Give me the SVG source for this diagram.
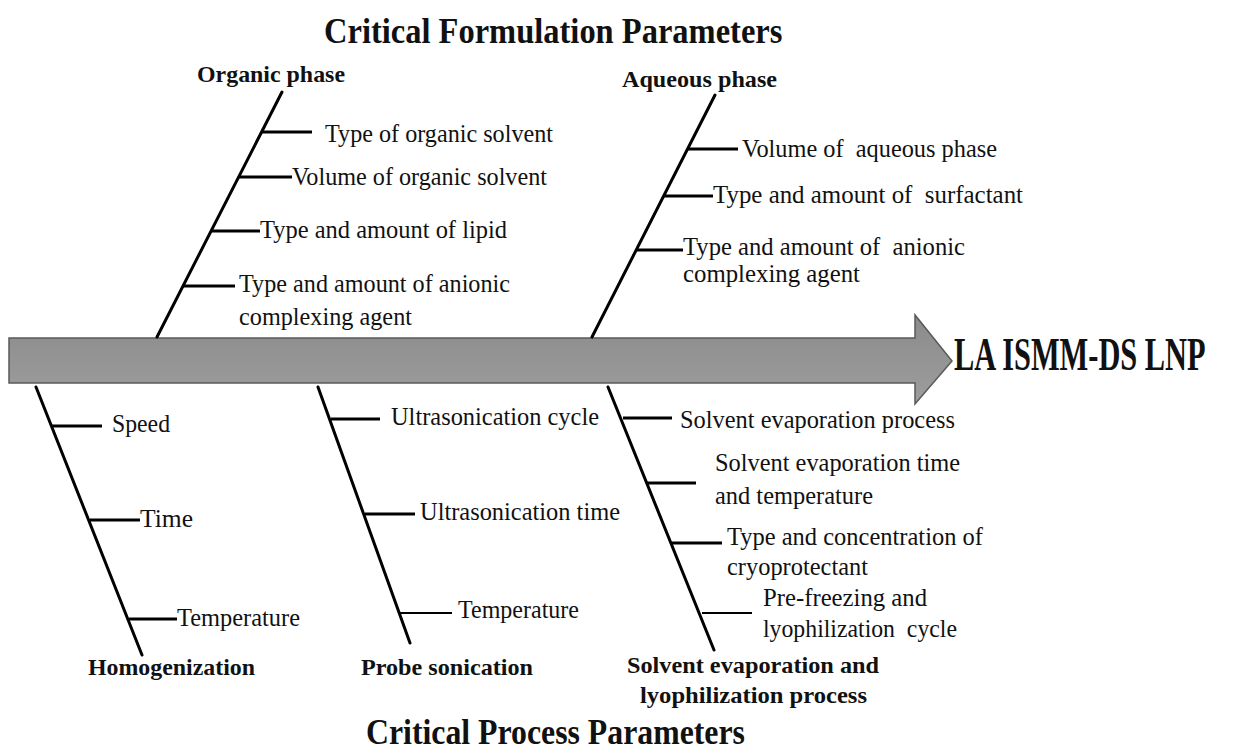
<svg xmlns="http://www.w3.org/2000/svg" width="1233" height="753" viewBox="0 0 1233 753">
<defs>
<linearGradient id="gr" x1="0" y1="0" x2="0" y2="1">
<stop offset="0" stop-color="#8b8b8b"/>
<stop offset="1" stop-color="#9d9d9d"/>
</linearGradient>
<style>
.t{font-family:"Liberation Serif","Times New Roman",serif;font-size:25.5px;fill:#111}
.b{font-weight:bold;font-size:24px}
.ttl{font-family:"Liberation Serif","Times New Roman",serif;font-weight:bold;fill:#111}
.sp{stroke:#000;stroke-width:3;fill:none;stroke-linecap:round}
.tk{stroke:#000;stroke-width:3}
.tn{stroke:#000;stroke-width:1.8}
</style>
</defs>
<rect width="1233" height="753" fill="#fff"/>

<g id="titles">
<text class="ttl" transform="translate(324,43) scale(1,1.12)" x="0" y="0" style="font-size:32.5px">Critical Formulation Parameters</text>
<text class="ttl" transform="translate(366,744) scale(1,1.12)" x="0" y="0" style="font-size:31.8px">Critical Process Parameters</text>
</g>

<g id="main-arrow">
<polygon points="9,338 915,338 915,315 952,361 915,404 915,383 9,383" fill="url(#gr)" stroke="#5a5a5a" stroke-width="1.5"/>
</g>

<g id="outcome">
<text class="ttl" transform="translate(954,370) scale(1,1.5)" x="0" y="0" style="font-size:30.4px">LA ISMM-DS LNP</text>
</g>

<g id="connectors">
<!-- Organic phase -->
<line class="sp" x1="157" y1="337" x2="282" y2="92"/>
<line class="tk" x1="262" y1="132" x2="312" y2="132"/>
<line class="tk" x1="239" y1="177" x2="292" y2="177"/>
<line class="tk" x1="212" y1="231" x2="260" y2="231"/>
<line class="tk" x1="183" y1="286" x2="235" y2="286"/>
<!-- Aqueous phase -->
<line class="sp" x1="592" y1="337" x2="715" y2="95"/>
<line class="tk" x1="687" y1="149" x2="738" y2="149"/>
<line class="tk" x1="663" y1="196" x2="713" y2="196"/>
<line class="tk" x1="637" y1="250" x2="683" y2="250"/>
<!-- Homogenization -->
<line class="sp" x1="36" y1="387" x2="142" y2="655"/>
<line class="tk" x1="52" y1="426" x2="102" y2="426"/>
<line class="tk" x1="90" y1="520" x2="140" y2="520"/>
<line class="tk" x1="129" y1="619" x2="177" y2="619"/>
<!-- Probe sonication -->
<line class="sp" x1="318" y1="387" x2="410" y2="643"/>
<line class="tk" x1="331" y1="419" x2="380" y2="419"/>
<line class="tk" x1="365" y1="514" x2="415" y2="514"/>
<line class="tn" x1="400" y1="613" x2="452" y2="613"/>
<!-- Solvent evaporation -->
<line class="sp" x1="608" y1="387" x2="714" y2="650"/>
<line class="tk" x1="623" y1="418" x2="672" y2="418"/>
<line class="tk" x1="647" y1="483" x2="696" y2="483"/>
<line class="tk" x1="672" y1="543" x2="722" y2="543"/>
<line class="tn" x1="702" y1="613" x2="752" y2="613"/>
</g>

<g id="organic-phase">
<text class="t b" x="197" y="82" textLength="148" lengthAdjust="spacingAndGlyphs">Organic phase</text>
<text class="t" x="325" y="142" textLength="228" lengthAdjust="spacingAndGlyphs">Type of organic solvent</text>
<text class="t" x="292" y="185" textLength="255" lengthAdjust="spacingAndGlyphs">Volume of organic solvent</text>
<text class="t" x="260" y="238" textLength="247" lengthAdjust="spacingAndGlyphs">Type and amount of lipid</text>
<text class="t" x="239" y="292" textLength="271" lengthAdjust="spacingAndGlyphs">Type and amount of anionic</text>
<text class="t" x="239" y="325" textLength="173" lengthAdjust="spacingAndGlyphs">complexing agent</text>
</g>

<g id="aqueous-phase">
<text class="t b" x="622" y="87" textLength="155" lengthAdjust="spacingAndGlyphs">Aqueous phase</text>
<text class="t" x="742" y="157" textLength="255" lengthAdjust="spacingAndGlyphs" style="white-space:pre">Volume of  aqueous phase</text>
<text class="t" x="713" y="203" textLength="310" lengthAdjust="spacingAndGlyphs" style="white-space:pre">Type and amount of  surfactant</text>
<text class="t" x="683" y="255" textLength="282" lengthAdjust="spacingAndGlyphs" style="white-space:pre">Type and amount of  anionic</text>
<text class="t" x="683" y="282" textLength="177" lengthAdjust="spacingAndGlyphs">complexing agent</text>
</g>

<g id="homogenization">
<text class="t b" x="88" y="675" textLength="167" lengthAdjust="spacingAndGlyphs">Homogenization</text>
<text class="t" x="112" y="432" textLength="58" lengthAdjust="spacingAndGlyphs">Speed</text>
<text class="t" x="140" y="527" textLength="53" lengthAdjust="spacingAndGlyphs">Time</text>
<text class="t" x="177" y="626" textLength="123" lengthAdjust="spacingAndGlyphs">Temperature</text>
</g>

<g id="probe-sonication">
<text class="t b" x="361" y="675" textLength="172" lengthAdjust="spacingAndGlyphs">Probe sonication</text>
<text class="t" x="391" y="425" textLength="208" lengthAdjust="spacingAndGlyphs">Ultrasonication cycle</text>
<text class="t" x="420" y="520" textLength="200" lengthAdjust="spacingAndGlyphs">Ultrasonication time</text>
<text class="t" x="458" y="618" textLength="121" lengthAdjust="spacingAndGlyphs">Temperature</text>
</g>

<g id="solvent-evaporation">
<text class="t b" x="627" y="673" textLength="252" lengthAdjust="spacingAndGlyphs">Solvent evaporation and</text>
<text class="t b" x="640" y="703" textLength="227" lengthAdjust="spacingAndGlyphs">lyophilization process</text>
<text class="t" x="680" y="428" textLength="275" lengthAdjust="spacingAndGlyphs">Solvent evaporation process</text>
<text class="t" x="715" y="471" textLength="245" lengthAdjust="spacingAndGlyphs">Solvent evaporation time</text>
<text class="t" x="715" y="504" textLength="158" lengthAdjust="spacingAndGlyphs">and temperature</text>
<text class="t" x="727" y="545" textLength="256" lengthAdjust="spacingAndGlyphs">Type and concentration of</text>
<text class="t" x="727" y="575" textLength="141" lengthAdjust="spacingAndGlyphs">cryoprotectant</text>
<text class="t" x="763" y="606" textLength="164" lengthAdjust="spacingAndGlyphs">Pre-freezing and</text>
<text class="t" x="763" y="637" textLength="194" lengthAdjust="spacingAndGlyphs" style="white-space:pre">lyophilization  cycle</text>
</g>
</svg>
